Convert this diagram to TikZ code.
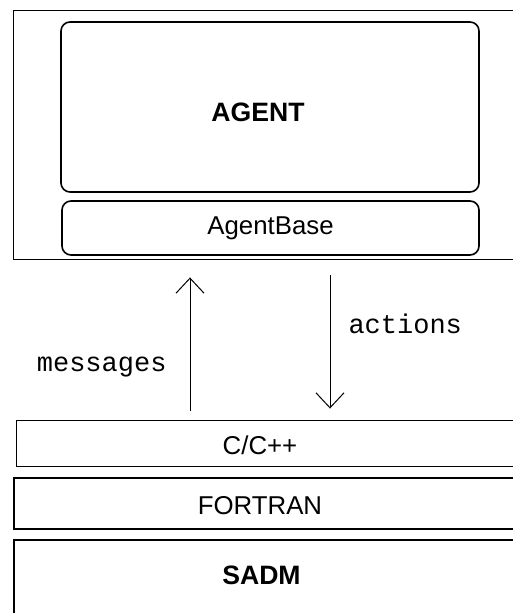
\documentclass[tikz,border=0pt]{standalone}
\usepackage{fontspec}
\setmainfont{Liberation Sans}
\setmonofont{Liberation Mono}
\usetikzlibrary{arrows.meta, positioning}

\begin{document}
\begin{tikzpicture}[
  x=1pt, y=1pt,
  layer/.style = {draw, line width=1.6pt, inner sep=0pt},
  thinlayer/.style = {layer, line width=0.9pt},
  roundbox/.style = {layer, rounded corners=9pt},
  txt/.style = {font=\fontsize{25.8}{30}\selectfont, inner sep=0pt},
  boldtxt/.style = {font=\bfseries\fontsize{26.6}{31}\selectfont, inner sep=0pt},
  arrow/.style = {line width=1pt, -{Straight Barb[length=15pt, width=28pt, line width=1pt]}},
  lbl/.style = {font=\ttfamily\fontsize{27}{31}\selectfont, inner sep=0pt}
]
  \useasboundingbox (0,0) rectangle (513,613);
  \clip (0,0) rectangle (513,613);

  % Agent side
  \node[thinlayer, minimum width=517pt, minimum height=249pt] (outer) at (271.5,478.5) {};
  \node[roundbox, minimum width=418pt, minimum height=170pt,
        label={[boldtxt, xshift=-12pt, yshift=-5pt]center:AGENT}] (agent) at (270,506) {};
  \node[roundbox, minimum width=417pt, minimum height=54pt,
        label={[txt]center:AgentBase}] (agentbase) at (270.5,385) {};

  % Simulator layers
  \node[thinlayer, minimum width=514pt, minimum height=46pt,
        label={[txt, xshift=-13pt, yshift=-2pt]center:C/C++}] (cpp) at (273,170) {};
  \node[layer, minimum width=516pt, minimum height=51pt,
        label={[txt, xshift=-12pt, yshift=-2pt]center:FORTRAN}] (fortran) at (272,109.5) {};
  \node[layer, minimum width=516pt, minimum height=80pt,
        label={[boldtxt, xshift=-10.5pt, yshift=5pt]center:SADM}] (sadm) at (272,33) {};

  % Arrow positions
  \coordinate (msgx) at (190,0);
  \coordinate (actx) at (330,0);

  % Messages: simulator -> agent
  \draw[arrow, shorten <=9pt, shorten >=18pt] (cpp.north -| msgx) --
    node[lbl, pos=0.33, left=23pt] {messages} (outer.south -| msgx);

  % Actions: agent -> simulator
  \draw[arrow, shorten <=16pt, shorten >=11pt] (outer.south -| actx) --
    node[lbl, pos=0.4, right=18pt] {actions} (cpp.north -| actx);

\end{tikzpicture}
\end{document}
